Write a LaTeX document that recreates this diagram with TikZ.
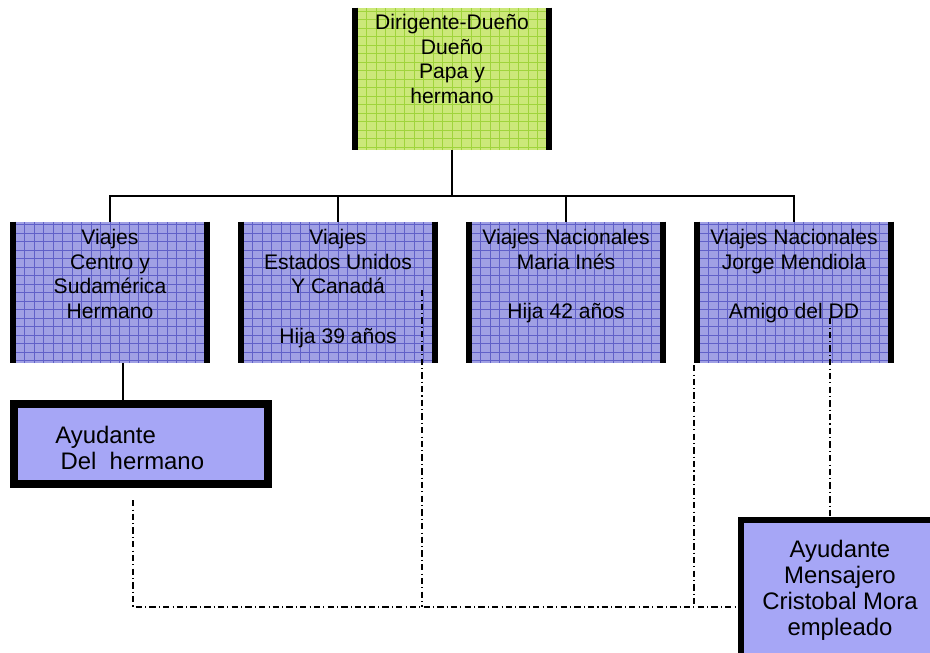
\documentclass[tikz,border=0pt]{standalone}
\usepackage{fontspec}
\setmainfont{Liberation Sans}
\usetikzlibrary{positioning}

\definecolor{limefill}{RGB}{204,232,122}
\definecolor{limegrid}{RGB}{160,212,60}
\definecolor{bluefill}{RGB}{160,160,228}
\definecolor{bluegrid}{RGB}{96,96,200}
\definecolor{helpfill}{RGB}{166,166,246}

\tikzset{
  gridbox/.style={rectangle, fill=#1fill, inner sep=0pt,
    minimum width=4cm, minimum height=2.82cm,
    path picture={\draw[#1grid, line width=.3pt]
      (path picture bounding box.south west) grid[xstep=.19cm, ystep=.17cm]
      (path picture bounding box.north east);}},
  bar/.style={line width=.12cm},
  helpbox/.style={rectangle, draw, fill=helpfill, inner sep=0pt},
  txt/.style={align=center, inner sep=0pt, font=\fontsize{12}{14}\selectfont},
  bigtxt/.style={align=center, inner sep=0pt, font=\fontsize{13.6}{14.8}\selectfont},
  link/.style={line width=1pt},
  dotline/.style={line width=.8pt, dash pattern=on 3.6pt off 1.8pt on .6pt off 1.8pt}
}

\begin{document}
\begin{tikzpicture}

  \useasboundingbox (0,0) rectangle (18.6,-13.04);

  % boxes
  \node[gridbox=lime, minimum height=2.84cm] (top) at (9.04,-1.58) {};
  \begin{scope}[every node/.style={gridbox=blue}]
    \node (c1) at (2.2,-5.85)   {};
    \node (c2) at (6.76,-5.85)  {};
    \node (c3) at (11.32,-5.85) {};
    \node (c4) at (15.88,-5.85) {};
  \end{scope}

  \foreach \b in {top,c1,c2,c3,c4} {
    \draw[bar] ([xshift=.06cm]\b.north west) -- ([xshift=.06cm]\b.south west);
    \draw[bar] ([xshift=-.06cm]\b.north east) -- ([xshift=-.06cm]\b.south east);
  }

  \node[helpbox, line width=.16cm, minimum width=5.08cm, minimum height=1.6cm] (helpA) at (2.82,-8.88) {};
  \node[helpbox, line width=.12cm, minimum width=3.96cm, minimum height=2.8cm, bigtxt] (helpB) at (16.8,-11.8)
    {Ayudante\\Mensajero\\Cristobal Mora\\empleado};

  % texts
  \begin{scope}[every node/.style={txt, anchor=north}]
    \node (topTxt) at ([yshift=-.13cm]top.north) {Dirigente-Dueño\\Dueño\\Papa y\\hermano};
    \node (c1Txt) at ([yshift=-.15cm]c1.north) {Viajes\\Centro y\\Sudamérica\\Hermano};
    \node (c2Txt) at ([yshift=-.15cm]c2.north) {Viajes\\Estados Unidos\\Y Canadá\\[14pt]Hija 39 años};
    \node (c3Txt) at ([yshift=-.15cm]c3.north) {Viajes Nacionales\\Maria Inés\\[14pt]Hija 42 años};
    \node (c4Txt) at ([yshift=-.15cm]c4.north) {Viajes Nacionales\\Jorge Mendiola\\[14pt]Amigo del DD};
  \end{scope}
  \node[bigtxt, align=left, anchor=west] (helpATxt) at (1.1,-8.96) {Ayudante\\\hspace{3pt}Del\ \ hermano};

  % solid links
  \coordinate (bus) at (9.04,-3.92);
  \draw[link] (top.south) -- (bus);
  \foreach \b in {c1,c2,c3,c4}
    \draw[link] (bus) -| (\b.north);
  \draw[link] ([xshift=.26cm]c1.south) -- ([xshift=.26cm]c1.south |- helpA.north);

  % dash-dot links
  \coordinate (dA)   at (2.66,-10.0);
  \coordinate (dEnd) at (14.76,-12.14);
  \coordinate (d2)   at (8.44,-5.8);
  \coordinate (d3)   at (13.88,-7.3);
  \coordinate (d4)   at (16.6,-6.36);
  \draw[dotline] (dA) |- (dEnd);
  \draw[dotline] (d2) -- (d2 |- dEnd);
  \draw[dotline] (d3) -- (d3 |- dEnd);
  \draw[dotline] (d4) -- (d4 |- helpB.north);

\end{tikzpicture}
\end{document}
